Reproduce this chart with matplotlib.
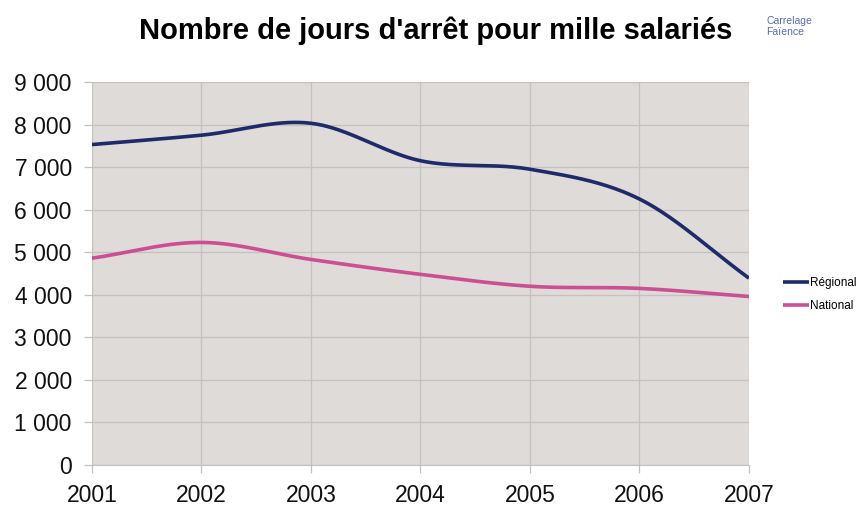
import numpy as np
import matplotlib
matplotlib.use("Agg")
import matplotlib.pyplot as plt
from matplotlib.ticker import FuncFormatter

years = [2001, 2002, 2003, 2004, 2005, 2006, 2007]
regional = [7530, 7750, 8030, 7150, 6950, 6250, 4390]
national = [4860, 5230, 4830, 4480, 4200, 4150, 3960]
yticks = list(range(0, 9001, 1000))

def smooth(x, y, n=40):
    x = np.asarray(x, float); y = np.asarray(y, float)
    px = np.concatenate([[2*x[0]-x[1]], x, [2*x[-1]-x[-2]]])
    py = np.concatenate([[2*y[0]-y[1]], y, [2*y[-1]-y[-2]]])
    xs, ys = [], []
    for i in range(1, len(px)-2):
        t = np.linspace(0, 1, n, endpoint=False)
        p0, p1, p2, p3 = (np.array([px[j], py[j]]) for j in range(i-1, i+3))
        t2, t3 = t*t, t*t*t
        pts = 0.5*((2*p1)[:, None] + (-p0+p2)[:, None]*t + (2*p0-5*p1+4*p2-p3)[:, None]*t2 + (-p0+3*p1-3*p2+p3)[:, None]*t3)
        xs.append(pts[0]); ys.append(pts[1])
    xs.append([x[-1]]); ys.append([y[-1]])
    return np.concatenate(xs), np.concatenate(ys)

fig = plt.figure(figsize=(8.62, 5.08), dpi=100)
ax = fig.add_axes([0.1067, 0.0846, 0.7622, 0.754])
ax.set_facecolor("#dedbd9")

rx, ry = smooth(years, regional)
nx, ny = smooth(years, national)
ax.plot(rx, ry, color="#1f2a6b", lw=2.6, label="Régional", solid_capstyle="butt")
ax.plot(nx, ny, color="#cc4f94", lw=2.6, label="National", solid_capstyle="butt")

ax.set_xlim(years[0], years[-1])
ax.set_ylim(0, 9000)
ax.set_xticks(years)
ax.set_yticks(yticks)
ax.yaxis.set_major_formatter(FuncFormatter(lambda v, p: f"{int(v):,}".replace(",", " ")))
ax.grid(True, color="#c4c2c0", lw=0.9)
ax.set_axisbelow(True)
for s in ["top", "right", "left"]:
    ax.spines[s].set_visible(False)
ax.spines["bottom"].set_color("#c4c2c0")
ax.tick_params(axis="y", length=6, width=0.9, color="#c4c2c0", labelsize=16.5, pad=8.5)
ax.tick_params(axis="x", length=6, width=0.9, color="#c4c2c0", labelsize=16.5, pad=8)
for lab in ax.get_xticklabels() + ax.get_yticklabels():
    lab.set_family("Liberation Sans")
    lab.set_color("#111111")

fig.text(0.506, 0.94, "Nombre de jours d'arrêt pour mille salariés", ha="center", va="center",
         fontsize=21, fontweight="bold", family="Liberation Sans")
fig.text(0.889, 0.968, "Carrelage\nFaïence", ha="left", va="top", fontsize=7.5,
         color="#5a6ab0", family="Liberation Sans", linespacing=1.1)

leg = ax.legend(loc="center left", bbox_to_anchor=(1.035, 0.445), frameon=False,
                prop={"family": "Liberation Sans", "size": 8.5}, handlelength=2.2,
                handletextpad=0.1, labelspacing=0.9)

fig.savefig("out.png", dpi=100)
